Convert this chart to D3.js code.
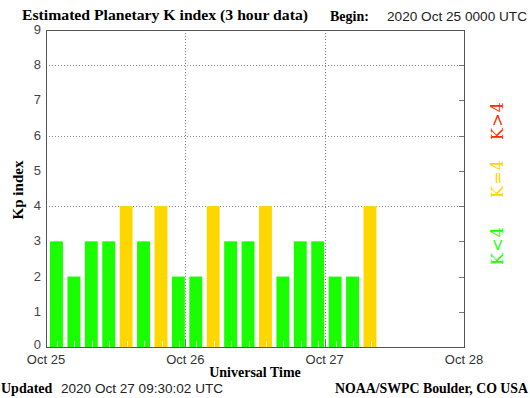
<!DOCTYPE html>
<html>
<head>
<meta charset="utf-8">
<script src="https://cdn.jsdelivr.net/npm/d3@7"></script>
<style>
  body { margin: 0; background: #fff; }
  svg { display: block; }
</style>
</head>
<body>
<div id="chart"></div>
<script>
// Kp values, one for each 3 hour period from 2020 Oct 25 00 UTC
var kpValues = [3, 2, 3, 3, 4, 3, 4, 2,
                2, 4, 3, 3, 4, 2, 3, 3,
                2, 2, 4];
var dayTicks = ["2020-10-25", "2020-10-26", "2020-10-27", "2020-10-28"];
var yTicks = [0, 1, 2, 3, 4, 5, 6, 7, 8, 9];
var gridLevels = [4, 6, 8];
var legendItems = [
    {label: "K>4", color: "#ff2a00", y: 121},
    {label: "K=4", color: "#ffd500", y: 179},
    {label: "K<4", color: "#19ff00", y: 246}
];

var width = 530, height = 398;
var plotLeft = 46, plotRight = 464, plotTop = 30, plotBottom = 347;

var serif = "'Liberation Serif', 'DejaVu Serif', serif";
var sans = "'Liberation Sans', Arial, sans-serif";

var svg = d3.select("#chart")
    .append("svg")
    .attr("width", width)
    .attr("height", height);

var parse = d3.utcParse("%Y-%m-%d");
var start = parse(dayTicks[0]);
var end = parse(dayTicks[dayTicks.length - 1]);

var x = d3.scaleUtc().domain([start, end]).range([plotLeft, plotRight]);
var y = d3.scaleLinear().domain([0, 9]).range([plotBottom, plotTop]);

// periods built from the start time
var periods = kpValues.map(function (k, i) {
    var t0 = d3.utcHour.offset(start, 3 * i);
    return {t0: t0, t1: d3.utcHour.offset(t0, 3), kp: k};
});

function barColor(k) {
    if (k > 4) return "#ff2a00";
    if (k == 4) return "#ffd700";
    return "#19ff00";
}

// dotted grid
svg.selectAll(".hgrid")
    .data(gridLevels)
    .enter()
    .append("line")
    .attr("x1", plotLeft)
    .attr("x2", plotRight)
    .attr("y1", function (d) { return Math.round(y(d)) + 0.5; })
    .attr("y2", function (d) { return Math.round(y(d)) + 0.5; })
    .attr("stroke", "#888")
    .attr("stroke-dasharray", "1,2");

svg.selectAll(".vgrid")
    .data(dayTicks.slice(1, 3))
    .enter()
    .append("line")
    .attr("x1", function (d) { return Math.round(x(parse(d))) + 0.5; })
    .attr("x2", function (d) { return Math.round(x(parse(d))) + 0.5; })
    .attr("y1", plotTop)
    .attr("y2", plotBottom)
    .attr("stroke", "#888")
    .attr("stroke-dasharray", "1,2");

// bars
svg.selectAll(".bar")
    .data(periods)
    .enter()
    .append("rect")
    .attr("x", function (d) { return x(d.t0) + 4; })
    .attr("width", function (d) { return x(d.t1) - x(d.t0) - 4.5; })
    .attr("y", function (d) { return y(d.kp); })
    .attr("height", function (d) { return plotBottom - y(d.kp); })
    .attr("fill", function (d) { return barColor(d.kp); });

// small light ticks at the bottom of each bar
svg.selectAll(".minor")
    .data(periods)
    .enter()
    .append("line")
    .attr("x1", function (d) { return Math.round(x(d.t0) + 11) + 0.5; })
    .attr("x2", function (d) { return Math.round(x(d.t0) + 11) + 0.5; })
    .attr("y1", plotBottom - 6)
    .attr("y2", plotBottom)
    .attr("stroke", "#fff")
    .attr("stroke-opacity", 0.75);

// day ticks on the bottom axis
svg.selectAll(".dtick")
    .data(dayTicks.slice(1, 3))
    .enter()
    .append("line")
    .attr("x1", function (d) { return Math.round(x(parse(d))) + 0.5; })
    .attr("x2", function (d) { return Math.round(x(parse(d))) + 0.5; })
    .attr("y1", plotBottom - 7)
    .attr("y2", plotBottom)
    .attr("stroke", "#777");

// right axis ticks
svg.selectAll(".rtick")
    .data(yTicks.slice(1, 9))
    .enter()
    .append("line")
    .attr("x1", plotRight - 5)
    .attr("x2", plotRight)
    .attr("y1", function (d) { return Math.round(y(d)) + 0.5; })
    .attr("y2", function (d) { return Math.round(y(d)) + 0.5; })
    .attr("stroke", "#777");

// frame
svg.append("rect")
    .attr("x", plotLeft + 0.5)
    .attr("y", plotTop + 0.5)
    .attr("width", plotRight - plotLeft)
    .attr("height", plotBottom - plotTop)
    .attr("fill", "none")
    .attr("stroke", "#555");

// y tick labels
svg.selectAll(".ylab")
    .data(yTicks)
    .enter()
    .append("text")
    .attr("x", 41)
    .attr("y", function (d) { return y(d) + (d == 0 ? 2 : 4); })
    .attr("text-anchor", "end")
    .style("font-family", sans)
    .style("font-size", "13px")
    .attr("fill", "#444")
    .text(function (d) { return d; });

// x tick labels
var fmt = d3.utcFormat("%b %-d");
svg.selectAll(".xlab")
    .data(dayTicks)
    .enter()
    .append("text")
    .attr("x", function (d) { return x(parse(d)); })
    .attr("y", 364)
    .attr("text-anchor", "middle")
    .style("font-family", sans)
    .style("font-size", "13px")
    .attr("fill", "#333")
    .text(function (d) { return fmt(parse(d)); });

// title
svg.append("text")
    .attr("x", 22)
    .attr("y", 20)
    .attr("textLength", 286)
    .attr("lengthAdjust", "spacingAndGlyphs")
    .style("font-family", serif)
    .style("font-weight", "bold")
    .style("font-size", "15px")
    .text("Estimated Planetary K index (3 hour data)");

svg.append("text")
    .attr("x", 330)
    .attr("y", 21)
    .style("font-family", serif)
    .style("font-weight", "bold")
    .style("font-size", "14px")
    .text("Begin:");

svg.append("text")
    .attr("x", 387)
    .attr("y", 21)
    .attr("textLength", 140)
    .attr("lengthAdjust", "spacingAndGlyphs")
    .style("font-family", sans)
    .style("font-size", "13px")
    .attr("fill", "#222")
    .text("2020 Oct 25 0000 UTC");

// axis titles
svg.append("text")
    .attr("transform", "translate(23,190) rotate(-90)")
    .attr("text-anchor", "middle")
    .style("font-family", serif)
    .style("font-weight", "bold")
    .style("font-size", "15px")
    .text("Kp index");

svg.append("text")
    .attr("x", 255)
    .attr("y", 377)
    .attr("text-anchor", "middle")
    .style("font-family", serif)
    .style("font-weight", "bold")
    .style("font-size", "14px")
    .text("Universal Time");

// footer
svg.append("text")
    .attr("x", 1)
    .attr("y", 393)
    .style("font-family", serif)
    .style("font-weight", "bold")
    .style("font-size", "14px")
    .text("Updated");

svg.append("text")
    .attr("x", 61)
    .attr("y", 393)
    .attr("textLength", 162)
    .attr("lengthAdjust", "spacingAndGlyphs")
    .style("font-family", sans)
    .style("font-size", "13px")
    .attr("fill", "#222")
    .text("2020 Oct 27 09:30:02 UTC");

svg.append("text")
    .attr("x", 528)
    .attr("y", 393)
    .attr("text-anchor", "end")
    .attr("textLength", 193)
    .attr("lengthAdjust", "spacingAndGlyphs")
    .style("font-family", serif)
    .style("font-weight", "bold")
    .style("font-size", "14px")
    .text("NOAA/SWPC Boulder, CO USA");

// legend on the right, rotated
svg.selectAll(".legend")
    .data(legendItems)
    .enter()
    .append("text")
    .attr("transform", function (d) { return "translate(503," + d.y + ") rotate(-90)"; })
    .attr("text-anchor", "middle")
    .attr("textLength", 38)
    .attr("lengthAdjust", "spacing")
    .style("font-family", "'DejaVu Serif', 'Liberation Serif', serif")
    .style("font-size", "16px")
    .attr("fill", function (d) { return d.color; })
    .text(function (d) { return d.label; });
</script>
</body>
</html>
